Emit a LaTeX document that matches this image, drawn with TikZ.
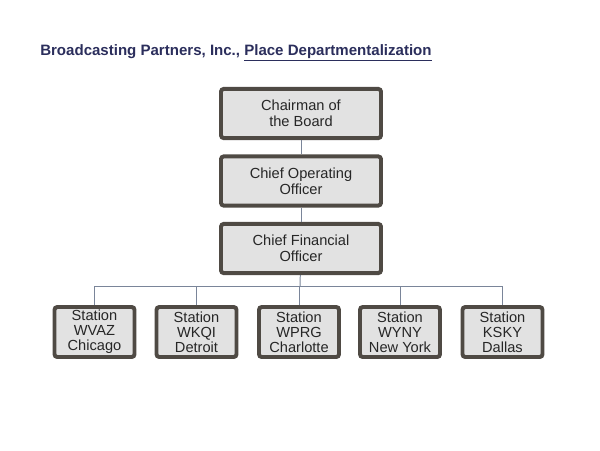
\documentclass[tikz,border=0pt]{standalone}
\usepackage{fontspec}
\setmainfont{Liberation Sans}
\usetikzlibrary{positioning}
\definecolor{titleNavy}{HTML}{2B2E5C}
\definecolor{boxBorder}{HTML}{4F4A44}
\definecolor{boxFill}{HTML}{E2E2E2}
\definecolor{boxText}{HTML}{262626}
\definecolor{linkGray}{HTML}{7A8599}
\begin{document}
\begin{tikzpicture}[
    x=0.025cm, y=-0.025cm,
    box/.style={
        rectangle, rounded corners=2pt, line width=2.8pt,
        draw=boxBorder, fill=boxFill, text=boxText,
        inner sep=2pt, align=center, font=\fontsize{10.4}{11.6}\selectfont
    },
    officeBox/.style={box, minimum width=4.0cm, minimum height=1.23cm},
    stationBox/.style={box, minimum width=2.0cm, minimum height=1.25cm,
        font=\fontsize{10.4}{10.8}\selectfont},
    link/.style={draw=linkGray, line width=0.7pt}
]
    \useasboundingbox (0,0) rectangle (600,450);

    % --- title ---
    \node[anchor=base west, inner sep=0pt, text=titleNavy,
          font=\fontsize{10.7}{12}\selectfont\bfseries] (title) at (40,55)
        {Broadcasting Partners, Inc., \underline{Place Departmentalization}};

    % --- top offices ---
    \node[officeBox] (chair) at (301,113.5) {Chairman of\\the Board};
    \node[officeBox] (coo) at (301,181) {Chief Operating\\Officer};
    \node[officeBox] (cfo) at (301,248.5) {Chief Financial\\Officer};

    % --- stations ---
    \node[stationBox] (wvaz) at (94.5,332) {Station\\WVAZ\\Chicago};
    \node[stationBox] (wkqi) at (196.5,332) {Station\\WKQI\\Detroit};
    \node[stationBox] (wprg) at (299,332) {Station\\WPRG\\Charlotte};
    \node[stationBox] (wyny) at (400,332) {Station\\WYNY\\New York};
    \node[stationBox] (ksky) at (502.5,332) {Station\\KSKY\\Dallas};

    % --- connectors ---
    \coordinate (bus) at (300,286);
    \path[link] (chair) -- (coo);
    \path[link] (coo) -- (cfo);
    \path[link] (cfo) -- (bus);
    \foreach \s in {wvaz,wkqi,wprg,wyny,ksky}
        \path[link] (bus) -| (\s.north);
\end{tikzpicture}
\end{document}
